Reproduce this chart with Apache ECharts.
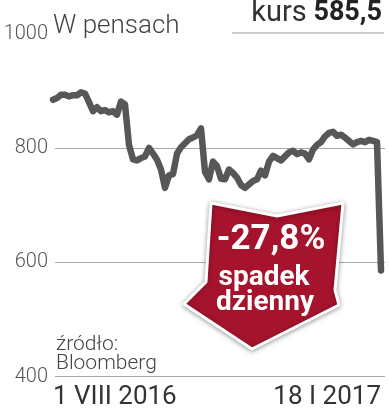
<!DOCTYPE html>
<html>
<head>
<meta charset="utf-8">
<script src="https://cdn.jsdelivr.net/npm/echarts@6/dist/echarts.min.js"></script>
<style>
html,body{margin:0;padding:0;background:#fff;}
#chart{width:389px;height:414px;}
</style>
</head>
<body>
<div id="chart"></div>
<script>
// ---- data ----
const prices = [884,887,893,893,890,892,892,897,895,880,
                864,871,864,866,862,864,858,881,876,805,
                780,778,782,785,800,790,779,762,730,752,
                754,790,801,808,815,818,822,834,758,745,
                776,768,746,745,762,756,748,735,730,736,
                742,745,760,752,776,786,782,778,785,792,
                795,789,792,790,780,797,805,810,820,826,
                828,821,823,818,812,806,810,812,810,814,
                812,810,585.5];
const firstLabel = '1 VIII 2016';
const lastLabel = '18 I 2017';
const yTicks = [400, 600, 800, 1000];
const unitLabel = 'W pensach';
const kursLabel = 'kurs';
const kursValue = '585,5';
const changeLabel = '-27,8%';
const changeText = ['spadek', 'dzienny'];
const sourceText = ['źródło:', 'Bloomberg'];

const categories = prices.map((_, i) => i === 0 ? firstLabel : (i === prices.length - 1 ? lastLabel : String(i)));

const chart = echarts.init(document.getElementById('chart'), null, {renderer: 'canvas'});
const FONT = 'Roboto';
const TOP = 33.5, H = 343;

chart.setOption({
  animation: false,
  backgroundColor: '#fff',
  grid: [
    {left: 53, right: 8, top: TOP, height: H},
    {left: 55, right: 4, top: TOP, height: H}
  ],
  xAxis: [
    {
      type: 'category', gridIndex: 0, data: categories, boundaryGap: false,
      axisLine: {show: false}, axisTick: {show: false}, splitLine: {show: false},
      axisLabel: {
        interval: (i) => i === 0 || i === categories.length - 1,
        formatter: (v, i) => (i === 0 || i === categories.length - 1) ? v : '',
        alignMinLabel: 'left', alignMaxLabel: 'right',
        fontFamily: FONT, fontSize: 26, color: '#333', margin: 8
      }
    },
    {
      type: 'value', gridIndex: 1, min: 0, max: 1, show: false
    }
  ],
  yAxis: [
    {
      type: 'value', gridIndex: 0, min: yTicks[0], max: yTicks[yTicks.length-1], interval: 200,
      axisLine: {show: false}, axisTick: {show: false}, splitLine: {show: false},
      axisLabel: {fontFamily: FONT, fontSize: 20, fontWeight: 300, color: '#555', margin: 5,
                  formatter: (v) => String(v)}
    },
    {
      type: 'value', gridIndex: 1, min: yTicks[0], max: yTicks[yTicks.length-1], interval: 200,
      axisLine: {show: false}, axisTick: {show: false}, axisLabel: {show: false},
      splitLine: {show: true, showMaxLine: false, lineStyle: {color: '#aaa', width: 1}}
    }
  ],
  series: [
    {
      type: 'line', xAxisIndex: 0, yAxisIndex: 0, data: prices, symbol: 'none',
      lineStyle: {color: '#575757', width: 6.5, cap: 'round', join: 'round'},
      z: 3
    }
  ],
  graphic: [
    {type: 'text', z: 10, x: 53, y: 39,
     style: {text: unitLabel, font: '300 26px ' + FONT, fill: '#444', verticalAlign: 'bottom'}},
    {type: 'line', z: 5, shape: {x1: 232, y1: 33, x2: 384, y2: 33},
     style: {stroke: '#999', lineWidth: 1.2}},
    {type: 'text', z: 10, x: 382, y: 28,
     style: {
       text: '{a|' + kursLabel + '}  {b|' + kursValue + '}',
       align: 'right', verticalAlign: 'bottom',
       rich: {
         a: {fontFamily: FONT, fontSize: 29, fontWeight: 400, fill: '#333'},
         b: {fontFamily: FONT, fontSize: 27, fontWeight: 700, fill: '#222'}
       }
     }},
    {type: 'text', z: 10, left: 56, top: 334,
     style: {text: sourceText.join('\n'), font: '300 21px ' + FONT, fill: '#444', lineHeight: 19}},
    {type: 'polygon', z: 20,
     shape: {points: [[211,203],[277,216],[343,203],[335,290],[339,305],[252,349],[184,304],[206,282]]},
     style: {fill: '#a6132d', stroke: '#fff', lineWidth: 3, lineJoin: 'round',
             shadowBlur: 5, shadowColor: 'rgba(0,0,0,0.35)', shadowOffsetX: 0, shadowOffsetY: 1}},
    {type: 'text', z: 21, x: 271, y: 258,
     style: {text: changeLabel, font: 'bold 35px ' + FONT, fill: '#fff', align: 'center', verticalAlign: 'bottom'}},
    {type: 'text', z: 21, x: 264, y: 292,
     style: {text: changeText[0], font: 'bold 28px ' + FONT, fill: '#fff', align: 'center', verticalAlign: 'bottom'}},
    {type: 'text', z: 21, x: 265, y: 317,
     style: {text: changeText[1], font: 'bold 28px ' + FONT, fill: '#fff', align: 'center', verticalAlign: 'bottom'}}
  ]
});
</script>
</body>
</html>
